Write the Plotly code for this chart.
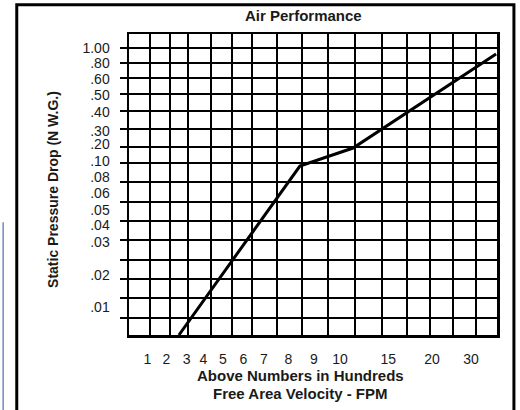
import plotly.graph_objects as go

# Chart uses a hand-drawn grid; axis units are "grid units" (x: 0-16 cells, y: 0-17 cells)
x_grid = [0.91, 1.78, 2.57, 3.57, 4.48, 5.35, 6.43, 7.52, 8.65, 9.83, 11.0, 12.09, 13.09, 14.09, 15.09]
y_grid = [0.96, 2.09, 3.16, 4.24, 5.37, 6.44, 7.51, 8.64, 9.71, 10.62, 11.63, 12.65, 13.61, 14.51, 15.36, 16.21]

x_tick_labels = ["1", "2", "3", "4", "5", "6", "7", "8", "9", "10", "15", "20", "30"]
x_tick_pos = [0.80, 1.63, 2.51, 3.23, 4.08, 4.97, 5.87, 6.93, 8.04, 9.17, 11.27, 13.17, 14.87]

y_tick_labels = ["1.00", ".80", ".60", ".50", ".40", ".30", ".20", ".10", ".08", ".06", ".05", ".04", ".03", ".02", ".01"]
y_tick_pos = [16.22, 15.36, 14.46, 13.55, 12.61, 11.52, 10.79, 9.85, 8.92, 8.02, 7.06, 6.21, 5.27, 3.39, 1.60]

# Performance curve (in grid units)
curve_x = [2.17, 7.43, 9.74, 15.96]
curve_y = [0.0, 9.54, 10.56, 15.87]

FONT = "Liberation Sans, Arial, Helvetica, sans-serif"

fig = go.Figure()
fig.add_trace(go.Scatter(x=curve_x, y=curve_y, mode="lines",
                         line=dict(color="black", width=3), hoverinfo="skip",
                         showlegend=False))

fig.update_layout(
    width=520, height=410,
    margin=dict(l=129, r=23, t=34, b=75),
    paper_bgcolor="white", plot_bgcolor="white",
    font=dict(family=FONT, color="#1a1a1a"),
    showlegend=False,
)

fig.update_xaxes(
    range=[0, 16], showgrid=False, zeroline=False,
    tickmode="array", tickvals=x_tick_pos, ticktext=x_tick_labels,
    ticks="", ticklabelstandoff=10, tickfont=dict(size=14, color="#1a1a1a"),
    showline=True, linecolor="black", linewidth=2.5, mirror=True,
    minor=dict(tickmode="array", tickvals=x_grid, showgrid=True,
               gridcolor="black", gridwidth=2, ticks=""),
)
fig.update_yaxes(
    range=[0, 17], showgrid=False, zeroline=False,
    tickmode="array", tickvals=y_tick_pos, ticktext=y_tick_labels,
    ticks="", ticklabelstandoff=14, tickfont=dict(size=14, color="#1a1a1a"),
    showline=True, linecolor="black", linewidth=2.5, mirror=True,
    minor=dict(tickmode="array", tickvals=y_grid, showgrid=True,
               gridcolor="black", gridwidth=2, ticks="outside",
               ticklen=7, tickwidth=2, tickcolor="black"),
)

annotations = [
    dict(text="<b>Air Performance</b>", x=0.473, y=1.06, font=dict(size=15)),
    dict(text="<b>Static Pressure Drop (N W.G.)</b>", x=-0.2065, y=0.482,
         textangle=-90, font=dict(size=14)),
    dict(text="<b>Above Numbers in Hundreds</b>", x=0.465, y=-0.136, font=dict(size=15)),
    dict(text="<b>Free Area Velocity - FPM</b>", x=0.465, y=-0.196, font=dict(size=15)),
]
for a in annotations:
    fig.add_annotation(xref="paper", yref="paper", showarrow=False,
                       xanchor="center", yanchor="middle", **a)

# outer document frame and edge artefact
fig.add_shape(type="rect", xref="paper", yref="paper",
              x0=-0.305, x1=1.046, y0=-0.30, y1=1.097,
              line=dict(color="black", width=3), fillcolor="rgba(0,0,0,0)")
fig.add_shape(type="line", xref="paper", yref="paper",
              x0=-0.342, x1=-0.342, y0=0.375, y1=-0.30,
              line=dict(color="#6d8cc0", width=1.5))

fig.write_html("out.html", config={"displayModeBar": False, "staticPlot": True},
               post_script="document.body.style.margin='0';document.body.style.overflow='hidden';")
